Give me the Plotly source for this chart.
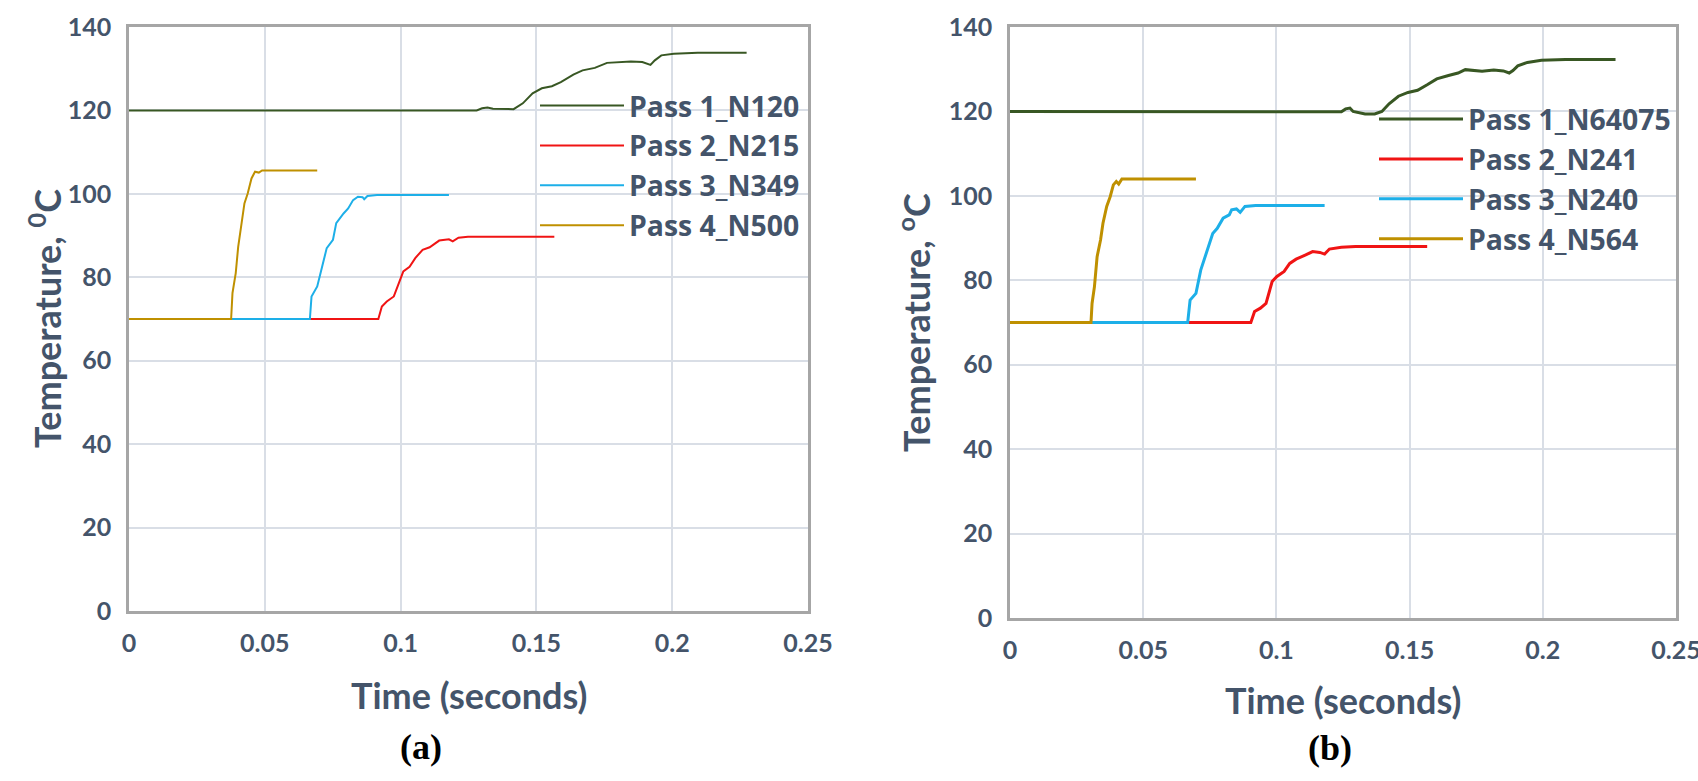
import plotly.graph_objects as go

# ---------------- data: panel (a) ----------------
a_names = ["Pass 1_N120", "Pass 2_N215", "Pass 3_N349", "Pass 4_N500"]
a_p1_x = [0, 0.128, 0.130, 0.132, 0.134, 0.139, 0.1416, 0.145, 0.1486, 0.152, 0.1557, 0.159, 0.1636, 0.167,
          0.1715, 0.176, 0.181, 0.1848, 0.189, 0.192, 0.1936, 0.196, 0.2006, 0.2094, 0.2274]
a_p1_y = [120, 120, 120.5, 120.7, 120.4, 120.3, 120.3, 121.7, 124.1, 125.3, 125.8, 126.8, 128.6, 129.6,
          130.2, 131.4, 131.5, 131.7, 131.6, 130.9, 132.0, 133.2, 133.6, 133.8, 133.8]
a_p2_x = [0, 0.0918, 0.0931, 0.0949, 0.0975, 0.0993, 0.101, 0.1033, 0.1054, 0.1081, 0.1107, 0.1142,
          0.1178, 0.1192, 0.1213, 0.1248, 0.1566]
a_p2_y = [70, 70, 73.0, 74.2, 75.4, 78.6, 81.4, 82.5, 84.6, 86.6, 87.2, 88.8, 89.1, 88.6, 89.5, 89.7, 89.7]
a_p3_x = [0, 0.0666, 0.0672, 0.0693, 0.0711, 0.0728, 0.0751, 0.0763, 0.079, 0.0807, 0.0825, 0.0843,
          0.086, 0.0866, 0.0878, 0.0913, 0.1178]
a_p3_y = [70, 70, 75.4, 77.8, 82.5, 87.0, 89.0, 93.0, 95.3, 96.5, 98.5, 99.3, 99.2, 98.7, 99.5, 99.7, 99.7]
a_p4_x = [0, 0.0376, 0.0381, 0.0393, 0.0402, 0.0413, 0.0425, 0.0437, 0.0451, 0.0464, 0.0478, 0.049, 0.0693]
a_p4_y = [70, 70, 76.2, 81.0, 87.3, 92.1, 97.7, 100.1, 103.7, 105.3, 105.1, 105.6, 105.6]

# ---------------- data: panel (b) ----------------
b_names = ["Pass 1_N64075", "Pass 2_N241", "Pass 3_N240", "Pass 4_N564"]
b_p1_x = [0, 0.1244, 0.126, 0.1276, 0.1288, 0.1333, 0.1369, 0.1396, 0.1423, 0.1458, 0.1494, 0.153, 0.1566,
          0.1602, 0.1646, 0.1682, 0.1709, 0.1745, 0.1772, 0.1816, 0.1852, 0.1874, 0.1888, 0.1906, 0.1942,
          0.1995, 0.2085, 0.2273]
b_p1_y = [120, 119.9, 120.6, 120.8, 120.0, 119.4, 119.4, 120.0, 121.8, 123.6, 124.5, 125.0, 126.3,
          127.7, 128.5, 129.1, 129.9, 129.7, 129.5, 129.8, 129.6, 129.1, 129.7, 130.8, 131.6,
          132.1, 132.3, 132.3]
b_p2_x = [0, 0.0904, 0.0918, 0.094, 0.0961, 0.0984, 0.1002, 0.1029, 0.105, 0.1074, 0.111, 0.1136, 0.1163,
          0.1181, 0.1199, 0.1244, 0.1297, 0.1566]
b_p2_y = [70, 70, 72.6, 73.4, 74.5, 79.7, 80.9, 82.1, 84.0, 85.0, 86.0, 86.8, 86.6, 86.2, 87.4, 87.8, 88.0, 88.0]
b_p3_x = [0, 0.0667, 0.0676, 0.0698, 0.0716, 0.0734, 0.0761, 0.0778, 0.08, 0.0823, 0.0832, 0.085, 0.0864,
          0.0882, 0.0922, 0.1181]
b_p3_y = [70, 70, 75.3, 76.9, 82.4, 86.0, 91.1, 92.3, 94.7, 95.5, 96.7, 96.9, 96.1, 97.5, 97.7, 97.7]
b_p4_x = [0, 0.0304, 0.0308, 0.0317, 0.0327, 0.034, 0.0349, 0.0363, 0.0376, 0.0388, 0.0399, 0.0408, 0.042,
          0.0456, 0.0698]
b_p4_y = [70, 70, 74.5, 78.5, 85.6, 89.6, 93.5, 97.5, 99.8, 102.6, 103.4, 102.8, 104.0, 104.0, 104.0]

x_ticks = [0, 0.05, 0.1, 0.15, 0.2, 0.25]
x_tick_text = ["0", "0.05", "0.1", "0.15", "0.2", "0.25"]
y_ticks = [0, 20, 40, 60, 80, 100, 120, 140]

colors = ["#385723", "#F01414", "#1DAFE8", "#BF9000"]
TXT = "#44546A"
FONT = "Lato"
LFONT = "Open Sans"

W, H = 1698, 781
def px(x):
    return x / W
def py(y):
    return 1 - y / H

fig = go.Figure()

a_series = [(a_p1_x, a_p1_y), (a_p2_x, a_p2_y), (a_p3_x, a_p3_y), (a_p4_x, a_p4_y)]
b_series = [(b_p1_x, b_p1_y), (b_p2_x, b_p2_y), (b_p3_x, b_p3_y), (b_p4_x, b_p4_y)]

for i, (xs, ys) in enumerate(a_series):
    fig.add_trace(go.Scatter(x=xs, y=ys, mode="lines", name=a_names[i],
                             line=dict(color=colors[i], width=2), xaxis="x", yaxis="y",
                             legend="legend"))
for i, (xs, ys) in enumerate(b_series):
    fig.add_trace(go.Scatter(x=xs, y=ys, mode="lines", name=b_names[i],
                             line=dict(color=colors[i], width=3), xaxis="x2", yaxis="y2",
                             legend="legend2"))

axis_common = dict(showgrid=True, gridcolor="#D9DEE6", gridwidth=1.5, zeroline=False,
                   showline=True, linecolor="#A6A6A6", linewidth=2.5, mirror=True,
                   automargin=False, ticks="", ticklabeloverflow="allow",
                   tickfont=dict(family=FONT, size=25, color=TXT, weight="bold"))

fig.update_layout(
    width=W, height=H, margin=dict(l=0, r=0, t=0, b=0, autoexpand=False),
    paper_bgcolor="white", plot_bgcolor="white",
    xaxis=dict(domain=[px(129), px(808)], range=[0, 0.25], tickvals=x_ticks, ticktext=x_tick_text,
               anchor="y", ticklabelstandoff=8, **axis_common),
    yaxis=dict(domain=[py(611), py(27)], range=[0, 140], tickvals=y_ticks, anchor="x",
               ticklabelstandoff=10, **axis_common),
    xaxis2=dict(domain=[px(1010), px(1676)], range=[0, 0.25], tickvals=x_ticks, ticktext=x_tick_text,
                anchor="y2", ticklabelstandoff=8, **axis_common),
    yaxis2=dict(domain=[py(618), py(27)], range=[0, 140], tickvals=y_ticks, anchor="x2",
                ticklabelstandoff=10, **axis_common),
    legend=dict(x=px(535), y=py(80.5), xanchor="left", yanchor="top", bgcolor="rgba(0,0,0,0)",
                font=dict(family=LFONT, size=28.4, color=TXT, weight="bold"), itemwidth=84,
                tracegroupgap=0),
    legend2=dict(x=px(1374), y=py(94), xanchor="left", yanchor="top", bgcolor="rgba(0,0,0,0)",
                 font=dict(family=LFONT, size=28.4, color=TXT, weight="bold"), itemwidth=84,
                 tracegroupgap=0),
    showlegend=True,
)

ann_font = dict(family=FONT, size=36, color=TXT, weight="bold")
fig.add_annotation(text="Time (seconds)", x=px(469), y=py(695), xref="paper", yref="paper",
                   showarrow=False, xanchor="center", yanchor="middle", font=ann_font)
fig.add_annotation(text="Time (seconds)", x=px(1343), y=py(700), xref="paper", yref="paper",
                   showarrow=False, xanchor="center", yanchor="middle", font=ann_font)
fig.add_annotation(text="Temperature, <sup>0</sup>C", x=px(45), y=py(319), xref="paper", yref="paper",
                   showarrow=False, xanchor="center", yanchor="middle", textangle=-90, font=ann_font)
fig.add_annotation(text="Temperature, <sup>o</sup>C", x=px(914), y=py(323), xref="paper", yref="paper",
                   showarrow=False, xanchor="center", yanchor="middle", textangle=-90, font=ann_font)
lab_font = dict(family="Liberation Serif", size=36, color="black", weight="bold")
fig.add_annotation(text="(a)", x=px(421), y=py(747), xref="paper", yref="paper",
                   showarrow=False, xanchor="center", yanchor="middle", font=lab_font)
fig.add_annotation(text="(b)", x=px(1330), y=py(748), xref="paper", yref="paper",
                   showarrow=False, xanchor="center", yanchor="middle", font=lab_font)

fig.write_html("out.html")
